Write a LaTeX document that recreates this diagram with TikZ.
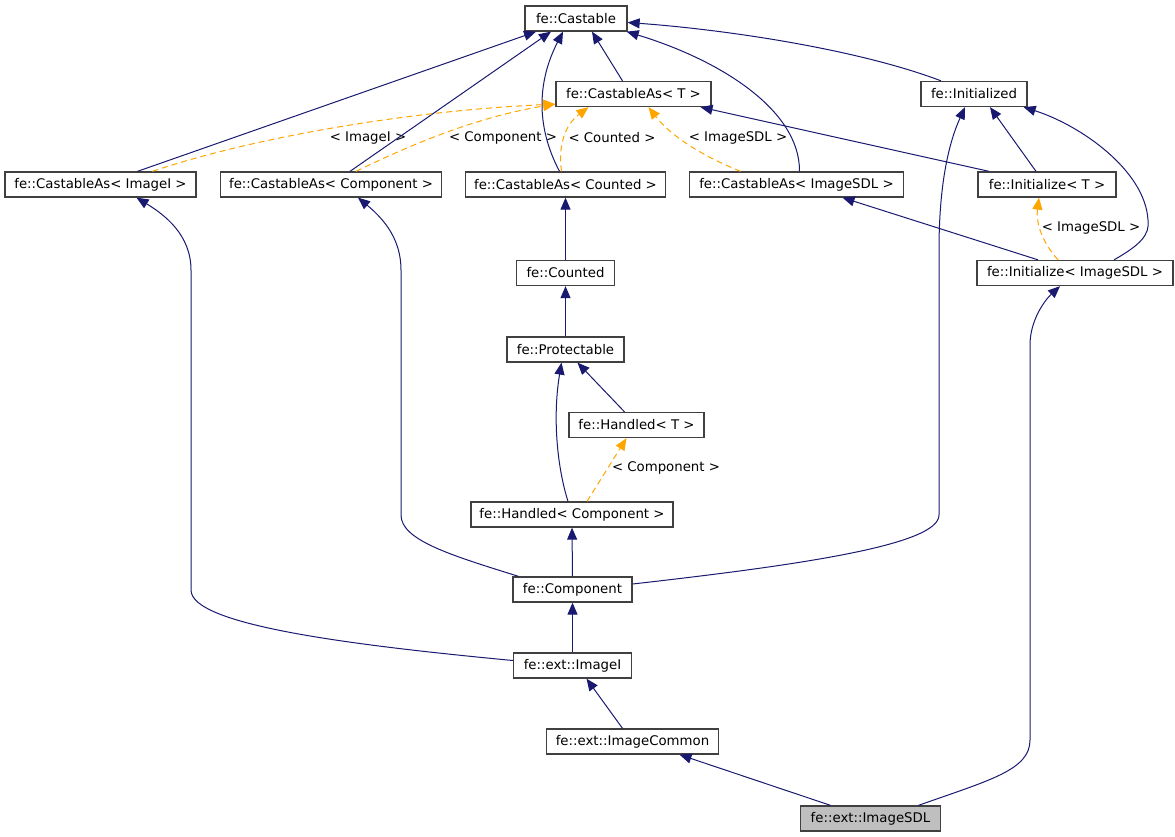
\documentclass[tikz,border=0pt]{standalone}
\usepackage{fontspec}
\setmainfont{DejaVu Sans}
\usetikzlibrary{arrows.meta}
\definecolor{navy}{HTML}{191970}
\definecolor{tmplorange}{HTML}{FFA500}
\definecolor{border}{HTML}{404040}
\definecolor{selgray}{HTML}{BFBFBF}
\tikzset{
  cls/.style={draw=border, fill=white, line width=1.3pt, minimum height=25pt, inner xsep=0pt,
    font=\fontsize{13.3}{16}\selectfont},
  inh/.style={draw=navy, line width=1pt, -{Triangle[length=12pt,width=10pt]}},
  tmpl/.style={draw=tmplorange, line width=1pt, dash pattern=on 6pt off 4pt,
    -{Triangle[length=12pt,width=10pt,fill=tmplorange]}},
  lbl/.style={font=\fontsize{13.3}{16}\selectfont, inner sep=0pt}
}
\begin{document}
\begin{tikzpicture}[x=1pt,y=-1pt]
\useasboundingbox (0,0) rectangle (1175,837);

% classes
\node [cls, minimum width=102] (cast) at (576,18.5) {fe::Castable};
\node [cls, minimum width=155] (cat) at (633.5,94) {fe::CastableAs< T >};
\node [cls, minimum width=106] (init) at (974,94) {fe::Initialized};
\node [cls, minimum width=191] (cai) at (100.5,184.5) {fe::CastableAs< ImageI >};
\node [cls, minimum width=221] (cac) at (331,184.5) {fe::CastableAs< Component >};
\node [cls, minimum width=200] (cacnt) at (565.5,184.5) {fe::CastableAs< Counted >};
\node [cls, minimum width=214] (casdl) at (796.5,184.5) {fe::CastableAs< ImageSDL >};
\node [cls, minimum width=138] (initt) at (1047,184.5) {fe::Initialize< T >};
\node [cls, minimum width=196] (initsdl) at (1075,273) {fe::Initialize< ImageSDL >};
\node [cls, minimum width=98] (cnt) at (565.5,273) {fe::Counted};
\node [cls, minimum width=117] (prot) at (565.5,349.5) {fe::Protectable};
\node [cls, minimum width=135] (hdt) at (636.5,425) {fe::Handled< T >};
\node [cls, minimum width=202] (hdc) at (572,514.5) {fe::Handled< Component >};
\node [cls, minimum width=119] (comp) at (572.5,589.5) {fe::Component};
\node [cls, minimum width=118] (imgi) at (572.5,665.5) {fe::ext::ImageI};
\node [cls, minimum width=172] (imgc) at (632.5,741.5) {fe::ext::ImageCommon};
\node [cls, minimum width=140, fill=selgray] (imgsdl) at (870.5,818.5) {fe::ext::ImageSDL};

% template labels
\node [lbl] (lbimgi) at (368,138) {< ImageI >};
\node [lbl] (lbcomp) at (503,138) {< Component >};
\node [lbl] (lbcnt) at (612,138) {< Counted >};
\node [lbl] (lbsdl) at (738,138) {< ImageSDL >};
\node [lbl] (lbsdltwo) at (1091,227.5) {< ImageSDL >};
\node [lbl] (lbcomptwo) at (666,468) {< Component >};

% inheritance
\draw [inh] ([xshift=-11]cat.north) -- ([xshift=16]cast.south);
\draw [inh] ([xshift=-33]init.north) .. controls (860,50) and (730,30) .. ([yshift=-4]cast.east);
\draw [inh] ([xshift=37]cai.north) -- ([xshift=-40]cast.south);
\draw [inh] ([xshift=19]cac.north) -- ([xshift=-25]cast.south);
\draw [inh] ([xshift=-6]cacnt.north) .. controls (535,125) and (538,80) .. ([xshift=-13]cast.south);
\draw [inh] ([xshift=3]casdl.north) .. controls (800,110) and (720,60) .. ([xshift=-1]cast.south east);
\draw [inh] ([xshift=-58]initt.north) -- ([xshift=67]cat.south);
\draw [inh] ([xshift=-11]initt.north) -- ([xshift=16]init.south);
\draw [inh] ([xshift=39]initsdl.north) .. controls (1140,245) and (1150,235) .. (1148,220)
  .. controls (1145,170) and (1080,125) .. ([xshift=-4]init.south east);
\draw [inh] ([xshift=-37]initsdl.north) -- ([xshift=46]casdl.south);
\draw [inh] (comp.east |- 0,584) .. controls (800,565) and (939,545) .. (939,515) -- (939,250)
  .. controls (939,180) and (950,140) .. ([xshift=-9]init.south);
\draw [inh] (cnt.north) -- (cacnt.south);
\draw [inh] (prot.north) -- (cnt.south);
\draw [inh] ([xshift=-12]hdt.north) -- ([xshift=12]prot.south);
\draw [inh] ([xshift=-4]hdc.north) .. controls (558,470) and (552,420) .. ([xshift=-4]prot.south);
\draw [inh] (comp.north) -- (hdc.south);
\draw [inh] ([xshift=-54]comp.north) .. controls (450,555) and (401,540) .. (401,515) -- (401,270)
  .. controls (401,240) and (385,220) .. ([xshift=27]cac.south);
\draw [inh] ([yshift=5]imgi.west) .. controls (350,645) and (191,625) .. (191,590) -- (191,270)
  .. controls (191,235) and (165,215) .. ([xshift=36]cai.south);
\draw [inh] (imgi.north) -- (comp.south);
\draw [inh] ([xshift=-10]imgc.north) -- ([xshift=14]imgi.south);
\draw [inh] ([xshift=-40]imgsdl.north) -- ([xshift=47]imgc.south);
\draw [inh] ([xshift=48]imgsdl.north) .. controls (990,780) and (1030,770) .. (1030,740) -- (1030,345)
  .. controls (1030,320) and (1045,300) .. ([xshift=-15]initsdl.south);

% template instances
\draw [tmpl] ([xshift=52]cai.north) .. controls (260,135) and (420,110) .. ([yshift=3]cat.south west);
\draw [tmpl] ([xshift=25]cac.north) .. controls (400,150) and (470,118) .. ([yshift=3]cat.south west);
\draw [tmpl] ([xshift=-4]cacnt.north) .. controls (558,145) and (565,125) .. ([xshift=-45]cat.south);
\draw [tmpl] ([xshift=-56]casdl.north) .. controls (700,155) and (670,135) .. ([xshift=15]cat.south);
\draw [tmpl] ([xshift=-17]initsdl.north) .. controls (1040,240) and (1036,220) .. ([xshift=-8]initt.south);
\draw [tmpl] ([xshift=15]hdc.north) -- ([xshift=-10]hdt.south);

\end{tikzpicture}
\end{document}
